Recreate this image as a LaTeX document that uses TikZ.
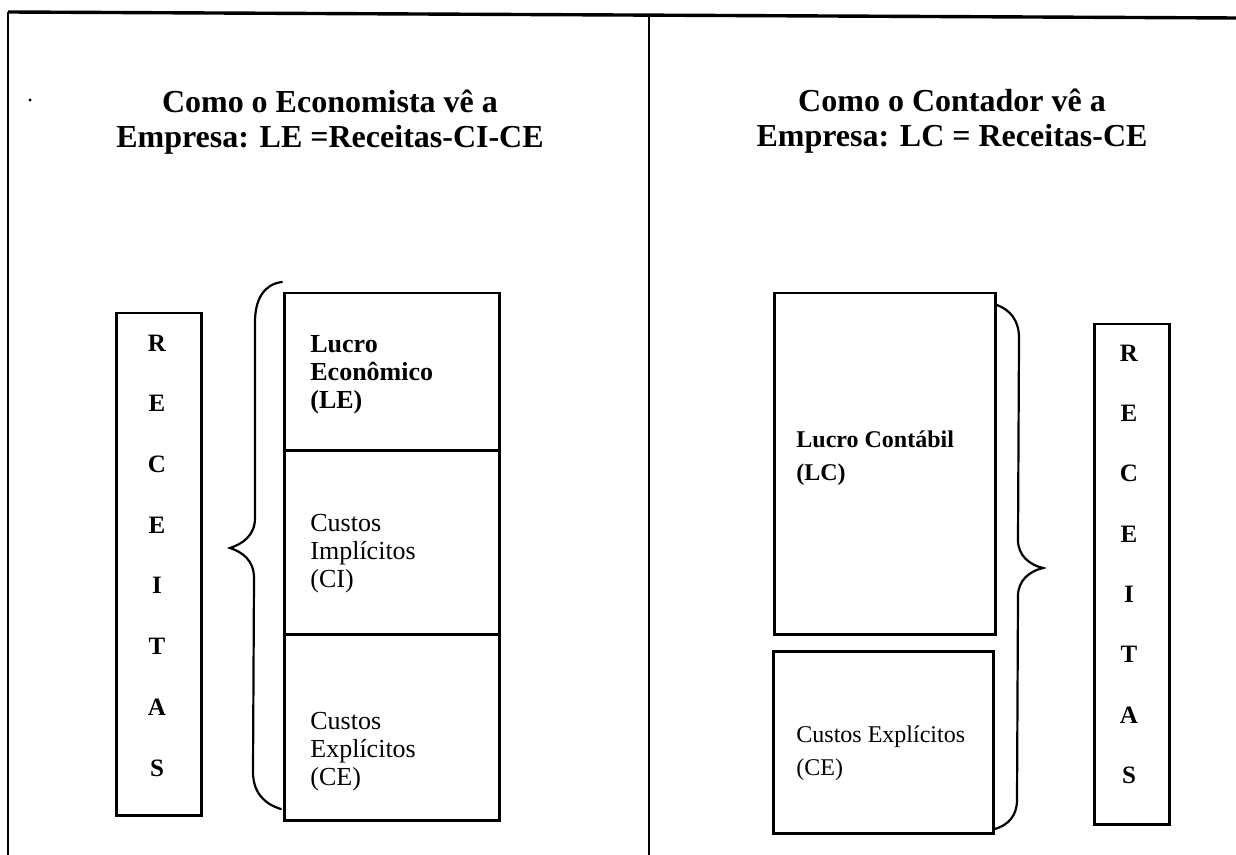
\documentclass[tikz,border=0pt]{standalone}
\usepackage{fontspec}
\setmainfont{Liberation Serif}
\begin{document}
\begin{tikzpicture}[x=0.5pt,y=-0.5pt,
  frame/.style={line width=1.1pt},
  cell/.style={draw, line width=1.25pt, inner sep=0pt, anchor=north west},
  brace/.style={line width=1.1pt, line cap=round},
  title/.style={font=\bfseries\fontsize{16}{17.5}\selectfont, align=center, inner sep=0pt},
  lbody/.style={font=\fontsize{13}{14}\selectfont, align=left, anchor=west, inner sep=0pt},
  rbody/.style={font=\fontsize{12}{16.5}\selectfont, align=left, anchor=west, inner sep=0pt},
  letter/.style={font=\bfseries\fontsize{12.5}{14}\selectfont, inner sep=0pt}]
\useasboundingbox (0,0) rectangle (1236,855);
\fill[white] (0,0) rectangle (1236,855);

% outer frame and the divider between the two panels
\coordinate (tl) at (8,12);
\coordinate (tr) at (1236,18);
\coordinate (bl) at (8,855);
\coordinate (mt) at (649,15);
\coordinate (mb) at (649,855);
\draw[line width=1.7pt] (tl) -- (tr);
\draw[frame] (tl) -- (bl);
\draw[frame] (mt) -- (mb);
\fill (30,100) circle (1.6);

% ---------- left panel: the economist ----------
\node[title] (tL) at (330,122) {Como o Economista vê a\\Empresa: LE =Receitas-CI-CE};

\node[cell, minimum width=42.5pt, minimum height=251pt] (recL) at (115,312) {};
\foreach \ch [count=\i from 0] in {R,E,C,E,I,T,A,S}
  \node[letter] (recL\i) at (157,{343+60.7*\i}) {\ch};

\node[cell, minimum width=107.5pt, minimum height=78.5pt] (le) at (283,292) {};
\node[cell, minimum width=107.5pt, minimum height=92pt] (ci) at (283,449) {};
\node[cell, minimum width=107.5pt, minimum height=93pt] (ce) at (283,633) {};

\node[lbody, font=\bfseries\fontsize{13}{14}\selectfont] (leT) at (310,375) {Lucro\\Econômico\\(LE)};
\node[lbody] (ciT) at (310,554) {Custos\\Implícitos\\(CI)};
\node[lbody] (ceT) at (310,752) {Custos\\Explícitos\\(CE)};

\draw[brace] (282,282) .. controls (265,284) and (255,298) .. (255,322)
  -- (255,518) .. controls (255,536) and (242,544) .. (230,548)
  .. controls (242,552) and (254,560) .. (254,578)
  -- (253,772) .. controls (253,792) and (264,804) .. (281,809);

% ---------- right panel: the accountant ----------
\node[title] (tR) at (952,121) {Como o Contador vê a\\Empresa: LC = Receitas-CE};

\node[cell, minimum width=110.5pt, minimum height=170.5pt] (lc) at (773,292) {};
\node[cell, minimum width=110pt, minimum height=91pt] (ce2) at (772,650) {};

\node[rbody, font=\bfseries\fontsize{12}{16.5}\selectfont] (lcT) at (796,458) {Lucro Contábil\\(LC)};
\node[rbody] (ce2T) at (796,753) {Custos Explícitos\\(CE)};

\node[cell, minimum width=37.5pt, minimum height=250pt] (recR) at (1093,323) {};
\foreach \ch [count=\i from 0] in {R,E,C,E,I,T,A,S}
  \node[letter] (recR\i) at (1129,{353+60.3*\i}) {\ch};

\draw[brace] (997,305) .. controls (1010,310) and (1019,320) .. (1019,338)
  -- (1018,540) .. controls (1018,556) and (1030,565) .. (1043,568)
  .. controls (1030,571) and (1018,580) .. (1018,596)
  -- (1017,800) .. controls (1017,816) and (1008,825) .. (995,829);
\end{tikzpicture}
\end{document}
